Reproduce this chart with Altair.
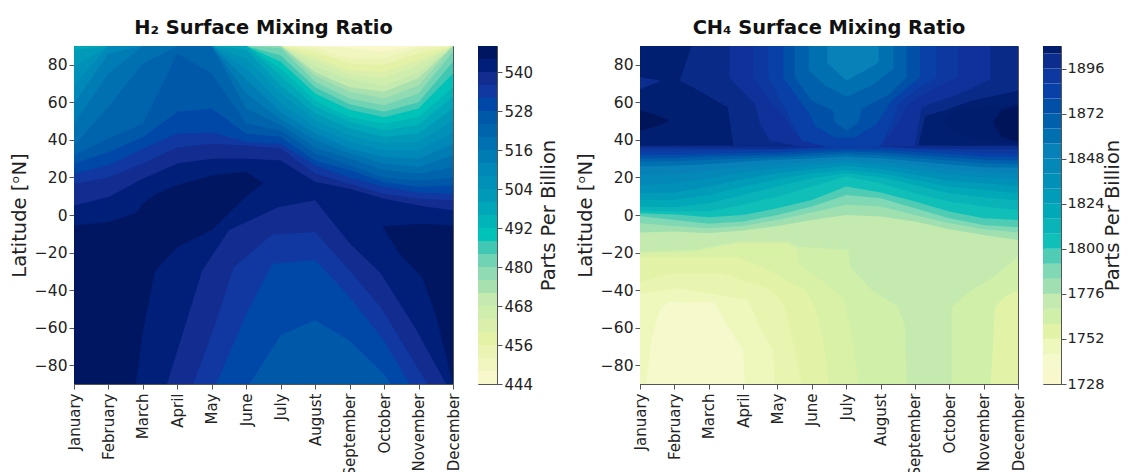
import altair as alt

MONTHS = ["January","February","March","April","May","June","July","August","September","October","November","December"]
M = list(range(12))

# ---------- H2: latitude of upper edge of the region >= level, month by month
H2_LEVELS = {
444:[90]*12,
448:[90,90,90,90,90,90,90,90,88.8,87,90,90],
452:[90,90,90,90,90,90,90,89,83.4,83.4,89,90],
456:[90,90,90,90,90,90,90,87,80.7,80,86,90],
460:[90,90,90,90,90,90,90,84,77,76,82.5,90],
464:[90,90,90,90,90,90,90,82,74.5,73,80,90],
468:[90,90,90,90,90,90,90,79,72,69,76,90],
472:[90,90,90,90,90,90,90,76,68,65.6,73,90],
476:[90,90,90,90,90,90,90,74,65.6,62,69,90],
480:[90,90,90,90,90,90,89,71,62,58.5,64.7,87],
484:[90,90,90,90,90,90,85,68,59,55,60,81.6],
488:[90,90,90,90,90,90,81.6,64.7,56,52,56.7,75.4],
492:[90,90,90,90,90,90,78,61,52,48.7,52,68],
496:[90,90,90,90,90,90,74,57.6,49.6,45,48,63],
500:[88,90,90,90,90,88,69,54,46,41.6,43.4,56.7],
504:[79,90,90,90,90,83.4,64.7,50.5,42.5,38,39,50.5],
508:[69,90,90,90,90,78,59.4,47,39,34.5,34.5,44],
512:[59.4,86,90,90,90,72,55,43.4,35.4,31,30,38],
516:[48.7,75.4,90,90,90,64.7,51,40,32.7,27.4,25.6,32],
520:[37,57.6,80.7,90,90,56.7,48,36,30,24,22,25.6],
524:[32,40.7,48.7,86,75.4,48.7,45,32.7,26.5,20,18.4,20],
528:[27.4,33.6,41.6,55,56.7,43.4,41.6,29,24,17.6,15,15.8],
532:[22,26.5,35.4,43.4,44,39,38,26.5,20,15,12,11.3],
536:[16.7,20,27.4,36,38,37,35.4,22,16.7,11.3,8.7,7.8],
540:[5,9.6,19.3,27.4,30,30,29,17.6,14,8.7,5,2.4],
}
# level, months, upper latitude, lower latitude
H2_PATCHES = [
(544,[0,1,1.8,2,2.36,3,4,5,5.5],[-5.6,-3.7,1,6,11,16,21,23,17],[-90,-90,-90,-61.6,-29.5,-17,-8,10,17]),
(544,[8.95,9.45,10.1,10.5,11],[-6,-5.5,-4.6,-5,-5.6],[-6,-20.6,-33,-53,-90]),
(536,[2.7,3.72,4.5,5.95,7,8,8.9,9.9,10.8],[-90,-29.6,-8,4.3,7.8,-15,-31,-60,-90],[-90]*9),
(532,[3.46,4.1,4.64,5.76,7,8,8.9,10.26],[-90,-58,-27.7,-10.4,-9,-29.6,-49,-90],[-90]*8),
(528,[4.13,5,5.76,7,8,9,9.74],[-90,-52.7,-26,-24,-43.7,-67,-90],[-90]*7),
(524,[5.1,6,7,8,9,9.18],[-90,-64,-56,-67,-85,-90],[-90]*6),
]
H2_STOPS = [444,456,468,472,476,480,484,488,492,500,508,516,524,528,532,536,540,544]
H2_COLORS = ["#f8f8cc","#e4f2a8","#c4eab0","#a8e0b0","#90dab4","#70d4b4","#40c8b4","#00c2b8","#00b4b8",
             "#009ab8","#0088b8","#0070b0","#0058a8","#0048a8","#1038a0","#122c90","#001f78","#001660"]
H2_TICKS = [444,456,468,480,492,504,516,528,540]

# ---------- CH4: latitude of lower edge of the region >= level, month by month
CH4_LEVELS = {
1776:[-9.3,-8.8,-9.7,-8.3,-5.8,-2.6,0,-.8,-3.5,-7.6,-10.6,-13.3],
1784:[-4.4,-5.8,-7,-5.8,-2.6,1.3,5.4,4.5,0,-4.4,-7.6,-9.3],
1792:[-.5,-2.6,-4.7,-3.5,0,4.5,10.7,8.9,3.6,-1.7,-5.3,-6.5],
1800:[.9,.2,-1.2,0,3.6,8,15.2,12,7.2,1.8,-1.7,-2.6],
1808:[2.4,1.8,1.8,5.4,9.8,15.2,20.5,16.9,11.6,7.2,4.5,2.7],
1816:[4.5,4.1,6.3,10.7,15.2,19.6,22.3,20.1,16,11.6,9.5,7.7],
1824:[8,8,10.7,15.2,19,22.3,24,22.3,18.7,15.2,13.4,11.6],
1832:[11.6,12,15.2,19,22.3,24.4,26.2,24.4,21.5,18.3,16.9,15.5],
1840:[16,16.9,19.6,22.6,24.7,26.5,27.9,26.5,24,21.5,20.1,19],
1848:[21.4,21.9,23.7,25.8,27.2,28.5,29.7,28.3,26.5,24.4,23,22.3],
1856:[25.8,26.2,27.2,28.3,29.4,30.2,31.1,30.2,28.6,26.9,25.4,25.1],
1864:[28.5,28.6,29.4,30.1,30.8,31.5,32.5,31.8,30.2,29,27.6,27.2],
1872:[30.2,30.4,31.1,31.5,32,32.9,33.8,33.3,32,30.8,29.4,29],
1880:[32,32,32.5,32.9,33.3,34.3,35,34.7,33.6,32.5,31.1,30.8],
1888:[33.8,33.8,34.3,34.3,34.7,35.6,36.5,36.1,35,34.3,32.9,32.5],
1896:[35.6,35.6,35.4,35.4,35.2,36,37,36.5,35.6,35.3,35,35],
}
CH4_TOP = (1902, [0,1,2,3,4,4.6,7.6,8,9,10,11], [36.9,36.9,36.9,36.9,37,37,37,37,36.9,36.9,36.9])
CH4_PATCHES = [
# dark centres of the northern maximum
(1896,[0,.62],[73.3,71.5],[67,71.5]),
(1908,[0,.4,.87],[55.5,53.8,50.2],[44.9,46.7,50.2]),
(1904,[8.83,9.17,10.28,11],[49.3,56.4,58.2,59.1],[49.3,43.1,38.7,37.8]),
(1908,[10.28,10.52,11],[49.3,56,58.2],[49.3,41.5,38.7]),
# summer minimum cutting down from the top
(1898,[1.16,1.5,1.88,2.56,2.66,2.72,8.1,8.3,8.83,9.65,11],[71.5,90,90,90,90,90,90,90,90,90,90],[71.5,68.3,64.4,57.3,44,37,37,52.9,55.5,60.9,66.2]),
(1892,[2.6,3.34,3.49,3.78,4.65,8,8.19,9,9.6,10.2],[90]*10,[73,59.1,48.4,39.6,36.5,36.5,57.3,62.6,67,72.4]),
(1888,[3.29,3.83,4.21,4.5,5.43,6.98,7.51,7.81,8.63,9.26],[90]*10,[73.3,59.1,52,43.1,36,36,48.4,59.1,68,73.3]),
(1880,[3.73,4.21,4.5,4.7,5.43,6.98,7.32,7.51,8.15,8.63],[90]*10,[73.3,57.3,46.7,39.6,36.5,36.5,48.4,59,68,73.3]),
(1872,[4.17,4.5,4.94,5.09,5.67,6.25,6.88,7.32,8.15],[90]*9,[73.3,64.4,53.8,47.5,41.3,41.3,48.4,60.9,73.3]),
(1864,[4.5,4.99,5.62,5.67,6.01,6.35,6.45,7.27,7.76],[90]*9,[73.3,60.9,55.5,49.3,44.9,49.3,56.4,64.4,73.3]),
(1856,[4.91,5.38,6.01,6.74,7.32,7.37],[90]*6,[76.9,68.9,63,68.9,76.9,78]),
(1848,[5.45,5.48,6.01,6.88,6.95],[90]*5,[80.4,80.4,71.5,80.4,82]),
# southern minimum rising from the bottom
(1760,[0,1.59,2.85,4.31,4.6,6.06,6.11,6.74,7.51,7.71,7.76],[-19.5,-18.6,-14.2,-14.2,-16.9,-18.6,-27.5,-39.9,-48.8,-59.5,-90],[-90]*11),
(1760,[9.07,9.65,10.23,11],[-48.8,-39.9,-33.7,-22.2],[-90]*4),
(1756,[0,1.59,2.85,4.31,4.58,4.6,5.38,5.91,6.16,6.35],[-20.4,-19.5,-15.1,-15.1,-18.6,-25.7,-36.4,-44.4,-63,-90],[-90]*10),
(1752,[0,1.59,2.85,3.83,4.8,5.09,5.33,5.48],[-22.2,-22.2,-22.2,-30.2,-39.9,-48.8,-66.6,-90],[-90]*8),
(1752,[10.21,10.33,10.62,11],[-90,-48.8,-43.5,-40],[-90]*4),
(1748,[0,.91,2.37,3.83,4.21,4.5,4.7],[-35.5,-31,-31,-39.9,-48.8,-71.9,-90],[-90]*7),
(1744,[0,1.11,3.15,3.53,3.87,3.92],[-41.7,-39,-45.3,-61.2,-71.9,-90],[-90]*6),
(1736,[.18,.33,.57,.82,2.17,2.56,3,3.05],[-90,-66.6,-50.6,-46.5,-46.5,-59.5,-71.9,-90],[-90]*8),
]
CH4_STOPS = [1728,1736,1744,1748,1752,1756,1760,1768,1776,1784,1792,1800,1816,1832,1848,1856,1864,1872,1880,1888,1892,1898,1902,1904,1908]
CH4_COLORS = ["#f8f8cc","#f6f9cc","#eef7bc","#e8f5b0","#e2f3a8","#d8f1a6","#d0efa8","#c4eab0","#a0e0b0","#80d8b4","#50ccb4","#10c0b8",
              "#00a8b8","#0090b8","#0880b8","#0070b0","#0060ac","#0050a8","#0840a8","#0c38a0","#10309a","#0a2a88","#001f70","#001c6c","#00145a"]
CH4_TICKS = [1728,1752,1776,1800,1824,1848,1872,1896]

FONT = "DejaVu Sans"
INK = "#222222"
EDGE = "#555555"
X = alt.Scale(domain=[0, 11], nice=False, zero=False)
Y = alt.Scale(domain=[-90, 90], nice=False, zero=False)
MONTH_EXPR = "[" + ",".join(f"'{m}'" for m in MONTHS) + "][datum.value]"
YTITLE = "Latitude [\u1d52N]"
AXIS_X = alt.Axis(values=M, labelExpr=MONTH_EXPR, labelAngle=270, labelAlign="right", labelBaseline="middle",
                  labelFontSize=15, labelFont=FONT, labelColor=INK, labelPadding=4, tickColor=EDGE, tickSize=5,
                  domainColor=EDGE, grid=False, title=None, labelOverlap=False, labelBound=False, labelFlush=False)
AXIS_Y = alt.Axis(values=list(range(-80, 81, 20)), labelFontSize=15.5, labelFont=FONT, labelColor=INK, tickColor=EDGE,
                  tickSize=5, domainColor=EDGE, grid=False, title=YTITLE, titleFont=FONT, titleFontSize=19.5,
                  titleFontWeight="normal", titleColor=INK, titlePadding=5)


def area(level, xs, hi, lo, cscale):
    rows = [{"m": a, "hi": b, "lo": c, "level": level} for a, b, c in zip(xs, hi, lo)]
    return alt.Chart(alt.Data(values=rows)).mark_area(clip=True, interpolate="linear", opacity=1).encode(
        x=alt.X("m:Q", scale=X, axis=AXIS_X),
        y=alt.Y("hi:Q", scale=Y, axis=AXIS_Y),
        y2="lo:Q",
        color=alt.Color("level:Q", scale=cscale, legend=None),
    )


def panel(title, layers, w):
    return alt.layer(*layers).properties(
        width=w, height=338,
        title=alt.TitleParams(title, font=FONT, fontSize=19.4, fontWeight="bold", color="#111111", anchor="middle", offset=8),
    )


def colorbar(levels, tops, ticks, cscale, w, label_pad, title_pad, label_size):
    rows = [{"a": a, "b": b, "level": a} for a, b in zip(levels, tops)]
    dom = [levels[0], tops[-1]]
    return alt.Chart(alt.Data(values=rows)).mark_rect().encode(
        y=alt.Y("a:Q", scale=alt.Scale(domain=dom, nice=False, zero=False),
                axis=alt.Axis(orient="right", values=ticks, labelFontSize=label_size, labelFont=FONT, labelColor=INK,
                              labelPadding=label_pad, tickColor=EDGE, tickSize=5, domainColor=EDGE, grid=False,
                              title="Parts Per Billion", titleFont=FONT, titleFontSize=19.5, titleFontWeight="normal",
                              titleColor=INK, titleAngle=270, titleBaseline="top", titlePadding=title_pad, format="d")),
        y2="b:Q",
        color=alt.Color("level:Q", scale=cscale, legend=None),
    ).properties(width=w, height=338,
                 title=alt.TitleParams(" ", font=FONT, fontSize=19.4, fontWeight="bold", offset=8))


h2_scale = alt.Scale(domain=H2_STOPS, range=H2_COLORS, interpolate="rgb")
ch4_scale = alt.Scale(domain=CH4_STOPS, range=CH4_COLORS, interpolate="rgb")

h2_layers = [area(l, M, hi, [-90] * 12, h2_scale) for l, hi in H2_LEVELS.items()]
h2_layers += [area(l, xs, hi, lo, h2_scale) for l, xs, hi, lo in H2_PATCHES]

ch4_layers = [area(1768, M, [90] * 12, [-90] * 12, ch4_scale)]
ch4_layers += [area(l, M, [90] * 12, lo, ch4_scale) for l, lo in CH4_LEVELS.items()]
ch4_layers += [area(CH4_TOP[0], CH4_TOP[1], [90] * 11, CH4_TOP[2], ch4_scale)]
ch4_layers += [area(l, xs, hi, lo, ch4_scale) for l, xs, hi, lo in CH4_PATCHES]

h2_bar_low = list(range(444, 548, 4))
h2_bar_top = [v + 4 for v in h2_bar_low]
ch4_bar_low = list(range(1728, 1908, 8))
ch4_bar_top = [min(v + 8, 1908) for v in ch4_bar_low]

chart = alt.hconcat(
    panel("H\u2082 Surface Mixing Ratio", h2_layers, 379),
    colorbar(h2_bar_low, h2_bar_top, H2_TICKS, h2_scale, 19, 2, 7, 15),
    panel("CH\u2084 Surface Mixing Ratio", ch4_layers, 378),
    colorbar(ch4_bar_low, ch4_bar_top, CH4_TICKS, ch4_scale, 18, 1, 0, 14.5),
    spacing=15,
).resolve_scale(color="independent").configure_view(stroke=EDGE, strokeWidth=1).properties(
    background="white", padding={"left": 0, "top": 9, "right": 0, "bottom": 0})

chart.save("out.html", embed_options={"renderer": "svg", "actions": False})
